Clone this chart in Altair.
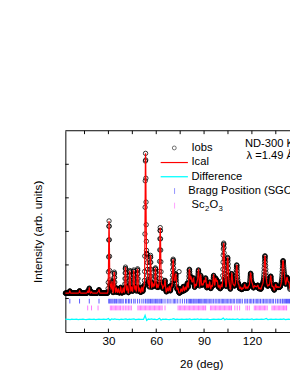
import altair as alt
import numpy as np
import pandas as pd

# ---------------- data ----------------
X_DOMAIN = [3.0, 143.9]
Y_DOMAIN = [-2000, 10000]

BACKGROUND = 320

PEAK_POS = [5.8, 11.9, 17.0, 18.0, 19.4, 23.5, 24.1, 30.4, 31.3, 32.2, 33.7, 35.0,
            36.2, 37.7, 39.3, 40.7, 41.8, 43.4, 44.6, 45.9, 47.0, 48.3, 49.6, 51.0,
            52.2, 53.3, 54.2, 55.2, 56.4, 57.6, 58.5, 59.5, 60.6, 61.5, 62.5, 63.6,
            64.6, 65.5, 67.0, 68.2, 69.5, 70.6, 71.5, 72.3, 73.5, 75.6, 77.0, 78.3,
            79.5, 80.8, 81.8, 82.6, 83.4, 84.6, 85.6, 86.5, 87.9, 89.0, 90.0, 91.0,
            92.3, 93.5, 94.8, 96.0, 97.3, 98.3, 99.5, 100.8, 102.3, 103.3, 104.8,
            105.8, 107.4, 108.5, 109.5, 110.5, 111.7, 113.0, 114.3, 115.5, 116.8,
            118.0, 119.2, 120.3, 121.6, 122.6, 123.7, 125.0, 126.3, 127.2, 128.2,
            129.3, 130.5, 131.8, 133.2, 134.9, 136.2, 137.3, 138.4, 139.5, 140.5,
            142.0, 143.2]
PEAK_HEIGHT = [130, 140, 120, 300, 80, 80, 200, 4300, 500, 700, 1250, 300,
               250, 350, 300, 1550, 400, 1350, 350, 1380, 400, 1450, 300, 350,
               400, 8300, 2200, 700, 2250, 600, 500, 1500, 500, 400, 3900, 500,
               400, 750, 300, 400, 450, 2000, 600, 1100, 300, 250, 400, 350,
               600, 1400, 900, 500, 850, 500, 600, 1350, 1050, 500, 700, 880,
               500, 650, 450, 1050, 850, 700, 450, 500, 2950, 600, 2100,
               500, 1150, 450, 400, 1650, 500, 350, 300, 500, 350,
               400, 1150, 500, 400, 350, 450, 300, 350, 500, 2150,
               500, 450, 1000, 400, 500, 350, 300, 450, 1800, 800,
               900, 600]

OUTLIER_POS = [74.3]
OUTLIER_I = [1600]

DIFF_POS = list(range(3, 145))
DIFF_I = [-1230, -1250, -1240, -1260, -1235, -1250, -1245, -1230, -1255, -1240,
          -1250, -1230, -1245, -1255, -1240, -1225, -1250, -1245, -1235, -1255,
          -1240, -1230, -1250, -1245, -1235, -1250, -1240, -1190, -1290, -1220,
          -1250, -1215, -1245, -1240, -1255, -1230, -1245, -1235, -1215, -1255,
          -1235, -1250, -1230, -1220, -1255, -1240, -1230, -1250, -1240, -1245,
          -1010, -1310, -1225, -1250, -1215, -1245, -1235, -1255, -1240, -1180,
          -1280, -1235, -1250, -1230, -1245, -1255, -1240, -1230, -1200, -1260,
          -1235, -1250, -1240, -1230, -1250, -1245, -1235, -1250, -1215, -1255,
          -1240, -1230, -1250, -1220, -1255, -1235, -1245, -1240, -1250, -1230,
          -1245, -1255, -1240, -1225, -1250, -1240, -1235, -1250, -1245, -1170,
          -1270, -1225, -1245, -1235, -1250, -1230, -1245, -1240, -1215, -1255,
          -1240, -1230, -1250, -1245, -1235, -1250, -1240, -1220, -1255, -1240,
          -1230, -1250, -1245, -1235, -1250, -1225, -1190, -1260, -1240, -1230,
          -1250, -1240, -1235, -1250, -1245, -1235, -1250, -1215, -1255, -1240,
          -1235, -1250]

BRAGG_SGO = [5.8, 11.9, 18.0, 24.1, 30.2, 30.8, 31.5, 32.2, 32.9, 33.7, 34.3, 35.1,
             36.0, 36.8, 37.7, 38.5, 39.3, 40.7, 41.5, 42.6, 43.4, 44.5, 45.9, 46.8,
             48.3, 49.6, 51.0, 52.2, 53.3, 54.2, 54.9, 55.6, 56.4, 57.2, 57.9, 58.7,
             59.5, 60.3, 61.0, 61.8, 62.5, 63.3, 64.2, 65.5, 66.9, 68.0, 69.2, 70.6,
             71.4, 72.3, 73.5, 75.0, 76.4, 77.8, 79.0, 80.0, 80.8, 81.5, 82.2, 83.0,
             83.6, 84.3, 85.0, 85.7, 86.5, 87.2, 87.9, 88.6, 89.4, 90.2, 91.0, 91.7,
             92.5, 93.3, 94.2, 95.0, 96.0, 97.0, 98.0, 98.9, 99.8, 100.7, 101.5,
             102.3, 103.1, 103.9, 104.8, 105.6, 106.5, 107.4, 108.3, 109.2, 110.5,
             111.3, 112.1, 113.0, 114.0, 115.5, 116.3, 117.2, 118.3, 119.2, 120.0,
             121.0, 122.0, 123.0, 123.7, 124.5, 125.4, 126.4, 127.3, 128.2, 129.0,
             130.0, 130.9, 131.8, 132.7, 133.6, 134.9, 136.0, 137.0, 138.0, 139.0,
             139.5, 140.3, 141.0, 141.7, 142.3, 143.0, 143.6]

BRAGG_SC2O3 = [17.0, 19.4, 23.5, 31.2, 32.0, 32.8, 33.6, 34.4, 35.2, 36.0, 36.8,
               37.6, 38.6, 39.6, 40.6, 41.6, 42.5, 43.5, 44.4, 48.5, 49.3, 50.1,
               50.9, 51.7, 52.5, 53.3, 54.1, 54.9, 55.7, 56.5, 57.3, 58.1, 58.9,
               59.7, 60.5, 61.3, 62.1, 62.9, 63.7, 65.5, 73.7, 74.5, 75.3, 76.1,
               76.9, 77.7, 78.5, 79.3, 80.1, 80.9, 81.7, 82.5, 83.3, 84.1, 84.9,
               85.7, 86.5, 87.3, 88.1, 88.9, 89.7, 90.5, 91.0, 94.0, 94.8, 95.6,
               96.4, 97.2, 98.0, 98.8, 99.6, 100.4, 101.2, 102.0, 102.8, 103.6,
               104.4, 105.2, 106.0, 106.8, 107.2, 109.3, 110.8, 112.3, 116.3,
               117.3, 118.4, 121.5, 122.3, 123.1, 123.9, 124.7, 125.5, 126.3,
               127.1, 127.9, 128.7, 129.6, 132.6, 133.4, 134.2, 135.0, 135.8,
               136.6, 137.4, 138.2, 139.0, 139.8, 140.6, 141.4, 141.8]

X_TICKS = [15, 30, 45, 60, 75, 90, 105, 120, 135]
X_LABELS = [30, 60, 90, 120]
Y_TICKS = [0, 2000, 4000, 6000, 8000]

# ---------------- pattern built from the read peak list ----------------
tt = np.round(np.arange(X_DOMAIN[0], X_DOMAIN[1] + 0.01, 0.1), 2)
ical = np.full_like(tt, float(BACKGROUND))
for p, h in zip(PEAK_POS, PEAK_HEIGHT):
    w = 0.45 + 0.005 * p
    ical += h * np.exp(-4 * np.log(2) * ((tt - p) / w) ** 2)

obs = pd.DataFrame({"tt": list(tt) + OUTLIER_POS, "I": list(ical) + OUTLIER_I})
calc = pd.DataFrame({"tt": tt, "I": ical})
diff = pd.DataFrame({"tt": DIFF_POS, "I": DIFF_I})
sgo = pd.DataFrame({"tt": BRAGG_SGO})
sco = pd.DataFrame({"tt": BRAGG_SC2O3})
xt = pd.DataFrame({"tt": X_TICKS})
yt = pd.DataFrame({"I": Y_TICKS})
one = pd.DataFrame({"a": [0]})

W, H = 231, 207
FONT = "Liberation Sans"

xscale = alt.Scale(domain=X_DOMAIN, nice=False, zero=False)
yscale = alt.Scale(domain=Y_DOMAIN, nice=False, zero=False)
xaxis = alt.Axis(values=X_LABELS, format="d", title="2θ (deg)", labelPadding=4,
                 titleX=139.7, titleY=32, titleBaseline="middle")
yaxis = alt.Axis(labels=False, title="Intensity (arb. units)", titlePadding=22)

X = alt.X("tt:Q", scale=xscale, axis=xaxis)
Y = alt.Y("I:Q", scale=yscale, axis=yaxis)

points = alt.Chart(obs).mark_point(shape="circle", filled=False, color="black",
                                   strokeWidth=0.8, size=20, opacity=1).encode(x=X, y=Y)
line = alt.Chart(calc).mark_line(color="#ff0000", strokeWidth=1.2).encode(x=X, y=Y)
dline = alt.Chart(diff).mark_line(color="#00ffff", strokeWidth=1.3).encode(x=X, y=Y)
sgo_r = alt.Chart(sgo).mark_rule(color="#2020ff", strokeWidth=1, opacity=0.75).encode(
    x=X, y=alt.datum(-20), y2=alt.datum(-300))
sco_r = alt.Chart(sco).mark_rule(color="#ff40ff", strokeWidth=1, opacity=0.7).encode(
    x=X, y=alt.datum(-420), y2=alt.datum(-710))

xt_bot = alt.Chart(xt).mark_rule(color="black", strokeWidth=1).encode(
    x=X, y=alt.value(H), y2=alt.value(H - 3.5))
xt_top = alt.Chart(xt).mark_rule(color="black", strokeWidth=1).encode(
    x=X, y=alt.value(0), y2=alt.value(3.5))
yt_left = alt.Chart(yt).mark_rule(color="black", strokeWidth=1).encode(
    y=Y, x=alt.value(0), x2=alt.value(3.5))
top_line = alt.Chart(one).mark_rule(color="black", strokeWidth=1).encode(
    x=alt.value(0), x2=alt.value(W), y=alt.value(0))

# ---------------- legend & annotations ----------------
def txt(s, x, y, size=11.5, base="middle"):
    return alt.Chart(one).mark_text(align="left", baseline=base, font=FONT,
                                    fontSize=size, color="black").encode(
        x=alt.value(x), y=alt.value(y), text=alt.value(s))

leg_pt = alt.Chart(one).mark_point(shape="circle", filled=False, color="black",
                                   strokeWidth=0.8, size=16).encode(
    x=alt.value(112), y=alt.value(17.7))
leg_ical = alt.Chart(one).mark_rule(color="#ff0000", strokeWidth=1.2).encode(
    x=alt.value(98), x2=alt.value(126), y=alt.value(32.7))
leg_diff = alt.Chart(one).mark_rule(color="#00ffff", strokeWidth=1.3).encode(
    x=alt.value(98), x2=alt.value(126), y=alt.value(47.3))
leg_sgo = alt.Chart(one).mark_rule(color="#2020ff", strokeWidth=1, opacity=0.5).encode(
    x=alt.value(112.3), y=alt.value(59), y2=alt.value(65))
leg_sco = alt.Chart(one).mark_rule(color="#ff40ff", strokeWidth=1, opacity=0.5).encode(
    x=alt.value(112.3), y=alt.value(74), y2=alt.value(80))

texts = [
    txt("Iobs", 129.7, 17.7),
    txt("Ical", 129.7, 32.7),
    txt("Difference", 129.7, 47.3),
    txt("Bragg Position (SGO)", 126.3, 62),
    txt("Sc", 129.7, 76.5),
    txt("2", 143.6, 80.5, size=8),
    txt("O", 148.2, 76.5),
    txt("3", 157.4, 80.5, size=8),
    txt("ND-300 K", 184.7, 13.7),
    txt("λ =1.49 Å", 186.3, 26.5),
]

chart = alt.layer(
    points, line, dline, sgo_r, sco_r, xt_bot, xt_top, yt_left, top_line,
    leg_pt, leg_ical, leg_diff, leg_sgo, leg_sco, *texts
).properties(
    width=W, height=H,
    autosize=alt.AutoSizeParams(type="none"),
    padding={"left": 59, "top": 121, "right": 0, "bottom": 40},
).configure_view(stroke=None).configure_axis(
    grid=False, ticks=False, domainColor="black", domainWidth=1,
    labelFont=FONT, titleFont=FONT, labelFontSize=12, titleFontSize=12,
    labelColor="black", titleColor="black", titleFontWeight="normal",
)

chart.save("out.html", embed_options={"renderer": "svg", "actions": False})
